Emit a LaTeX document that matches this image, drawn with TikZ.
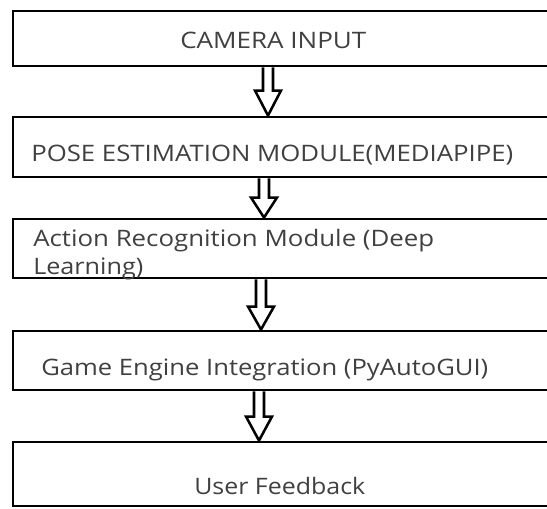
\documentclass[tikz,border=0pt]{standalone}
\usepackage{fontspec}
\setmainfont{Open Sans}
\usetikzlibrary{fit,calc}
\newsavebox\fitbox
\newcommand\fitw[2]{\sbox\fitbox{#2}\pgfmathsetmacro\sx{#1*0.75/(\the\wd\fitbox)}\scalebox{\sx}[1]{\usebox\fitbox}}
\tikzset{
  box/.style={draw=black, line width=2.2pt, inner sep=0pt},
  lbl/.style={text=black!75, font=\fontsize{17}{20}\selectfont, inner sep=0pt, anchor=base west},
  barrow/.style={draw=black, line width=1.9pt, fill=white, line join=miter},
}
\newcommand\blockarr[3]{%
  \draw[barrow] ($(#1)+(-5,0)$) -- ($(#2)+(-5,-#3)$) -- ($(#2)+(-13,-#3)$) -- (#2)
     -- ($(#2)+(13,-#3)$) -- ($(#2)+(5,-#3)$) -- ($(#1)+(5,0)$);}
\begin{document}
\begin{tikzpicture}[x=0.75pt,y=-0.75pt]
\useasboundingbox[fill=white] (0,0) rectangle (547,508);
\node[box, fit={(13,11) (555,66)}] (b1) {};
\node[box, fit={(13,117) (555,177)}] (b2) {};
\node[box, fit={(13,219) (555,278)}] (b3) {};
\node[box, fit={(13,331) (555,390)}] (b4) {};
\node[box, fit={(13,442) (555,506)}] (b5) {};
% texts
\node[lbl] (t1) at (180,48) {\fitw{186}{CAMERA INPUT}};
\node[lbl] (t2) at (31,161) {\fitw{482}{POSE ESTIMATION MODULE(MEDIAPIPE)}};
\node[lbl] (t3a) at (33,246) {\fitw{401}{Action Recognition Module (Deep}};
\node[lbl] (t3b) at (33,274) {\fitw{110}{Learning)}};
\node[lbl] (t4) at (41,375) {\fitw{447}{Game Engine Integration (PyAutoGUI)}};
\node[lbl] (t5) at (194,494) {\fitw{171}{User Feedback}};
% arrows
\path (268,0) coordinate (x1) (264,0) coordinate (x2) (261,0) coordinate (x3) (259,0) coordinate (x4);
\coordinate (s1) at (b1.south -| x1); \coordinate (e1) at (b2.north -| x1);
\coordinate (s2) at (b2.south -| x2); \coordinate (e2) at (b3.north -| x2);
\coordinate (s3) at (b3.south -| x3); \coordinate (e3) at (b4.north -| x3);
\coordinate (s4) at (b4.south -| x4); \coordinate (e4) at (b5.north -| x4);
\blockarr{s1}{e1}{25}
\blockarr{s2}{e2}{20}
\blockarr{s3}{e3}{23}
\blockarr{s4}{e4}{24}
\end{tikzpicture}
\end{document}
